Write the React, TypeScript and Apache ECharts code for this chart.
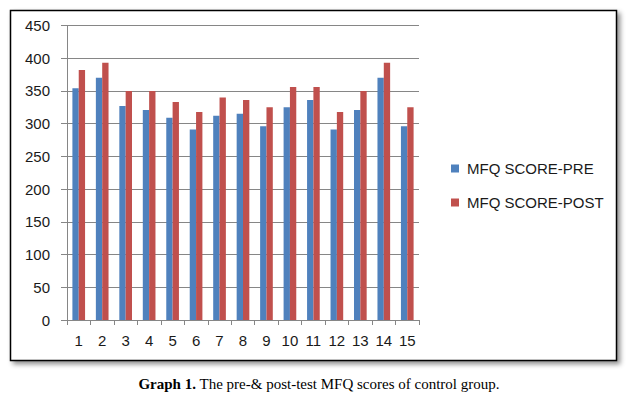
import React, { useEffect, useRef } from "react";
import * as echarts from "echarts";

const categories = ["1", "2", "3", "4", "5", "6", "7", "8", "9", "10", "11", "12", "13", "14", "15"];
const preScores = [354, 370, 327, 321, 309, 291, 312, 315, 296, 325, 336, 291, 321, 370, 296];
const postScores = [382, 393, 350, 350, 333, 318, 340, 336, 325, 356, 356, 318, 350, 393, 325];
const seriesNames = ["MFQ SCORE-PRE", "MFQ SCORE-POST"];
const yMin = 0;
const yMax = 450;
const yInterval = 50;

export default function App() {
  const ref = useRef<HTMLDivElement>(null);
  useEffect(() => {
    if (!ref.current) return;
    const chart = echarts.init(ref.current, null, { renderer: "svg" });
    const font = "'Liberation Sans', Arial, sans-serif";
    const serif = "'Liberation Serif', 'Times New Roman', serif";
    chart.setOption({
      animation: false,
      backgroundColor: "#ffffff",
      graphic: [
        {
          type: "rect",
          shape: { x: 10.5, y: 10.5, width: 606, height: 350 },
          style: {
            fill: "#ffffff",
            stroke: "#000000",
            lineWidth: 1.5,
            shadowColor: "rgba(0,0,0,0.45)",
            shadowBlur: 5,
            shadowOffsetX: 3,
            shadowOffsetY: 3,
          },
          z: -10,
          silent: true,
        },
        {
          type: "text",
          x: 319,
          y: 384,
          style: {
            text: "{b|Graph 1.} The pre-& post-test MFQ scores of control group.",
            rich: {
              b: { fontWeight: "bold", fontFamily: serif, fontSize: 15, fill: "#000" },
            },
            fontFamily: serif,
            fontSize: 15,
            fill: "#000",
            align: "center",
            verticalAlign: "middle",
          },
        },
      ],
      color: ["#4F81BD", "#C0504D"],
      grid: { left: 67, top: 25.5, width: 352, height: 294.5, containLabel: false },
      legend: {
        orient: "vertical",
        left: 446,
        top: 156,
        itemWidth: 8,
        itemHeight: 8,
        itemGap: 19,
        icon: "rect",
        data: seriesNames,
        textStyle: { fontFamily: font, fontSize: 15, color: "#1a1a1a", padding: [0, 0, 0, 3] },
      },
      xAxis: {
        type: "category",
        data: categories,
        axisLine: { lineStyle: { color: "#868686", width: 1 } },
        axisTick: { show: true, length: 5, lineStyle: { color: "#868686" } },
        axisLabel: { fontFamily: font, fontSize: 15, color: "#1a1a1a", margin: 13, interval: 0 },
      },
      yAxis: {
        type: "value",
        min: yMin,
        max: yMax,
        interval: yInterval,
        axisLine: { show: true, lineStyle: { color: "#868686", width: 1 } },
        axisTick: { show: true, length: 6, lineStyle: { color: "#868686" } },
        splitLine: { lineStyle: { color: "#868686", width: 1 } },
        axisLabel: { fontFamily: font, fontSize: 15, color: "#1a1a1a", margin: 17 },
      },
      series: [
        {
          name: seriesNames[0],
          type: "bar",
          data: preScores,
          barGap: "0%",
          barCategoryGap: "46%",
        },
        {
          name: seriesNames[1],
          type: "bar",
          data: postScores,
          barGap: "0%",
          barCategoryGap: "46%",
        },
      ],
    });
    return () => chart.dispose();
  }, []);
  return <div ref={ref} style={{ position: "fixed", left: 0, top: 0, width: 630, height: 393 }} />;
}
